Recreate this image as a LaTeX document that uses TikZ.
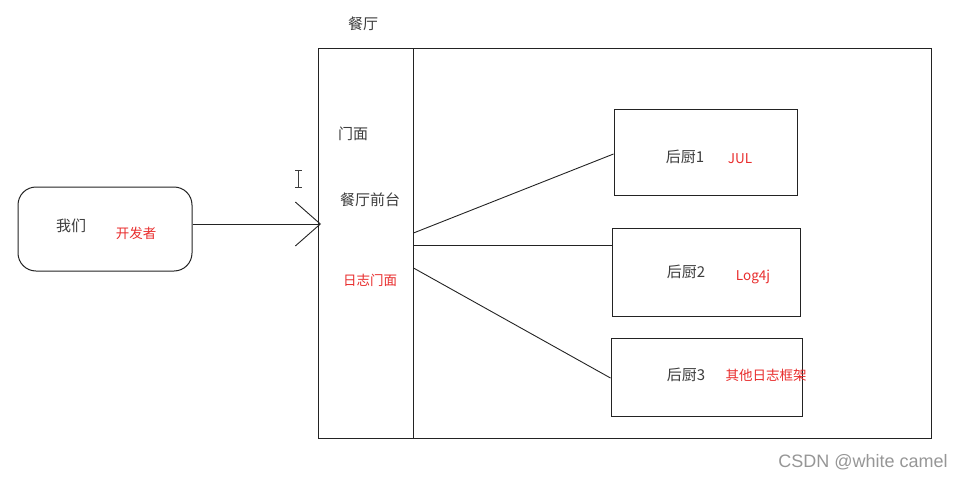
\documentclass[tikz,border=0pt]{standalone}
\usepackage{fontspec}
\setmainfont{Noto Sans CJK SC}
\newfontfamily\wmfont{Liberation Sans}
\usetikzlibrary{arrows.meta,positioning,calc}
\definecolor{rsedge}{RGB}{35,35,35}
\definecolor{rsred}{RGB}{232,45,45}
\definecolor{rsink}{RGB}{60,60,60}
\definecolor{rsmark}{RGB}{150,150,150}
\tikzset{
  rsbox/.style={draw=rsedge, line width=1pt, inner sep=0pt},
  txt/.style={font=\fontsize{15}{15}\selectfont, text=rsink, inner sep=0pt},
  note/.style={font=\fontsize{13.5}{13.5}\selectfont, text=rsred, inner sep=0pt},
  link/.style={draw=rsedge, line width=0.9pt},
  arr/.style={link, -{Straight Barb[length=25pt, width=44pt, line width=0.9pt]}},
  wmark/.style={font=\wmfont\fontsize{18}{18}\selectfont, text=rsmark, inner sep=0pt}
}
\begin{document}
\begin{tikzpicture}[x=1pt, y=-1pt]
  \useasboundingbox (0,0) rectangle (966,479);
  % left side
  \node[rsbox, rounded corners=18pt, minimum width=174pt, minimum height=84pt] (we) at (105,229) {};
  \node[txt] (weT) at (71,226) {我们};
  \node[note] (dev) at (136,233) {开发者};
  % restaurant
  \node[rsbox, minimum width=613pt, minimum height=390pt] (hall) at (624.5,243) {};
  \node[rsbox, minimum width=95pt, minimum height=390pt] (front) at (365.5,243) {};
  \node[txt] (hallT) at (363,24) {餐厅};
  \node[txt] (door) at (353,134) {门面};
  \node[txt] (desk) at (370,200) {餐厅前台};
  \node[note] (facade) at (370,280) {日志门面};
  % kitchens
  \node[rsbox, minimum width=183pt, minimum height=86pt] (k1) at (705.5,152) {};
  \node[rsbox, minimum width=188pt, minimum height=88pt] (k2) at (706,272) {};
  \node[rsbox, minimum width=191pt, minimum height=78pt] (k3) at (706.5,377) {};
  \node[txt] (k1T) at (685,157) {后厨1};
  \node[note] (jul) at (740,159) {JUL};
  \node[txt] (k2T) at (686,272) {后厨2};
  \node[note] (log) at (753,277) {Log4j};
  \node[txt] (k3T) at (686,375) {后厨3};
  \node[note] (other) at (766,375) {其他日志框架};
  % connectors
  \coordinate (in) at (321,224);
  \coordinate (p1) at (front.east |- 0,233);
  \coordinate (p2) at (front.east |- 0,245);
  \coordinate (p3) at (front.east |- 0,268);
  \draw[arr] (we.east |- in) -- (in);
  \draw[link] (p1) -- (k1.west |- 0,154);
  \draw[link] (p2) -- (p2 -| k2.west);
  \draw[link] (p3) -- (k3.west |- 0,378);
  % cursor
  \draw[rsink, line width=0.8pt] (298.5,170) -- (298.5,187)
    (295,170) -- (302,170) (295,187) -- (302,187);
  \node[wmark] (wm) at (863,462) {CSDN @white camel};
\end{tikzpicture}
\end{document}
